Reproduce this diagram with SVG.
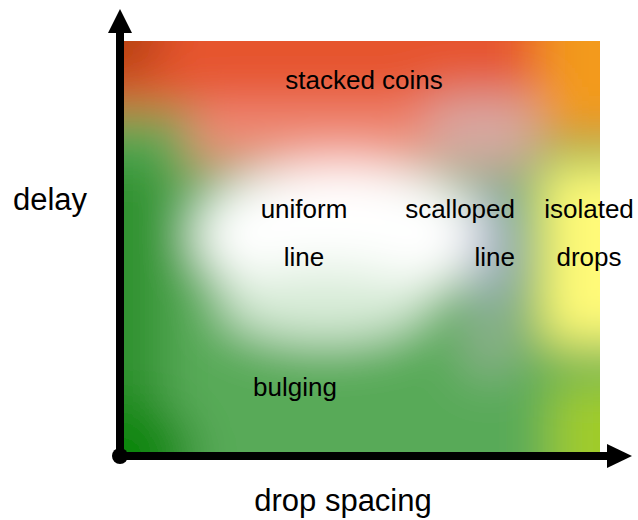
<svg xmlns="http://www.w3.org/2000/svg" width="638" height="520" viewBox="0 0 638 520">
  <defs>
    <clipPath id="plotClip">
      <rect x="124" y="41" width="476" height="411"/>
    </clipPath>
    <filter id="soft" filterUnits="userSpaceOnUse" x="0" y="-60" width="720" height="620">
      <feGaussianBlur stdDeviation="24"/>
    </filter>
  </defs>
  <style>
    .lbl { font-family: "Liberation Sans", Arial, sans-serif; font-size: 26px; fill: #000; }
    .axislbl { font-family: "Liberation Sans", Arial, sans-serif; font-size: 31px; fill: #000; }
    .axis { stroke: #000; stroke-width: 8; fill: none; }
    .head { fill: #000; stroke: none; }
  </style>

  <!-- colour field -->
  <g id="field" clip-path="url(#plotClip)">
    <g filter="url(#soft)">
      <rect x="40" y="-40" width="660" height="600" fill="#58AA58"/>
      <rect x="40" y="160" width="125" height="400" fill="#2E922E"/>
      <ellipse cx="125" cy="455" rx="70" ry="55" fill="#0E860E"/>
      <rect x="40" y="-40" width="660" height="150" fill="#E6552F"/>
      <rect x="190" y="105" width="290" height="60" fill="#EF8C78"/>
      <rect x="430" y="95" width="105" height="75" fill="#D8A8A2"/>
      <circle cx="115" cy="35" r="50" fill="#B8420A"/>
      <ellipse cx="340" cy="235" rx="145" ry="72" fill="#FFFFFF"/>
      <ellipse cx="325" cy="305" rx="105" ry="38" fill="#D8ECD8"/>
      <ellipse cx="494" cy="250" rx="22" ry="70" fill="#A8B0C8"/>
      <ellipse cx="490" cy="340" rx="30" ry="40" fill="#8CB08C"/>
      <rect x="538" y="-40" width="170" height="180" fill="#F39A1E"/>
      <rect x="542" y="165" width="170" height="180" fill="#FFFA78"/>
      <rect x="550" y="380" width="160" height="180" fill="#A0CC2A"/>
    </g>
  </g>

  <!-- connectors (axes) -->
  <g id="connectors">
    <line class="axis" x1="120" y1="456" x2="120" y2="31"/>
    <polygon class="head" points="108,33 132,33 120,9"/>
    <line class="axis" x1="120" y1="456" x2="609" y2="456"/>
    <polygon class="head" points="607,444 607,468 632,456"/>
    <circle class="head" cx="120" cy="456" r="8"/>
  </g>

  <!-- labels -->
  <g id="stacked-coins"><text class="lbl" x="364" y="89" text-anchor="middle">stacked coins</text></g>
  <g id="uniform-line">
    <text class="lbl" x="304" y="218" text-anchor="middle">uniform</text>
    <text class="lbl" x="304" y="266" text-anchor="middle">line</text>
  </g>
  <g id="scalloped-line">
    <text class="lbl" x="515" y="218" text-anchor="end">scalloped</text>
    <text class="lbl" x="515" y="266" text-anchor="end">line</text>
  </g>
  <g id="isolated-drops">
    <text class="lbl" x="589" y="218" text-anchor="middle">isolated</text>
    <text class="lbl" x="589" y="266" text-anchor="middle">drops</text>
  </g>
  <g id="bulging"><text class="lbl" x="295" y="396" text-anchor="middle">bulging</text></g>
  <g id="y-label"><text class="axislbl" x="50" y="210" text-anchor="middle">delay</text></g>
  <g id="x-label"><text class="axislbl" x="343" y="511" text-anchor="middle">drop spacing</text></g>
</svg>
